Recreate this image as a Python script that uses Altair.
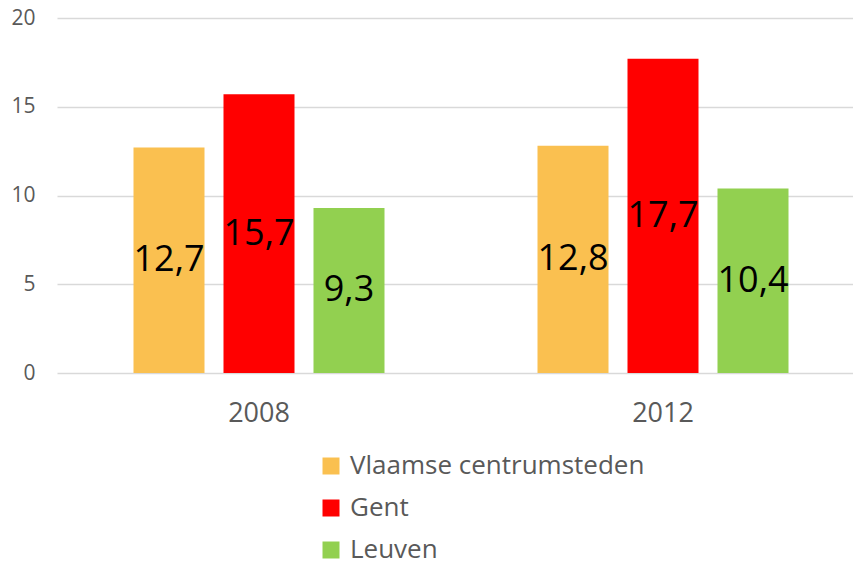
import altair as alt
import pandas as pd

years = ["2008", "2012"]
series = ["Vlaamse centrumsteden", "Gent", "Leuven"]
values_2008 = [12.7, 15.7, 9.3]
values_2012 = [12.8, 17.7, 10.4]
colors = ["#FAC050", "#FF0000", "#92D050"]

rows = []
for yr, vals in zip(years, [values_2008, values_2012]):
    for s, v in zip(series, vals):
        rows.append({"year": yr, "series": s, "value": v,
                     "label": f"{v:.1f}".replace(".", ",")})
df = pd.DataFrame(rows)

FONT = "Open Sans"
GRAY = "#595959"

x = alt.X("year:N", sort=years, title=None,
          scale=alt.Scale(range=[0, 808], paddingInner=0, paddingOuter=0),
          axis=alt.Axis(labelAngle=0, labelFontSize=27, labelColor=GRAY, labelFont=FONT,
                        labelPadding=27, ticks=False, domain=False, grid=False))
xo = alt.XOffset("series:N", sort=series,
                 scale=alt.Scale(paddingInner=0.211, paddingOuter=0.85))

base = alt.Chart(df).encode(x=x, xOffset=xo)

bars = base.mark_bar().encode(
    y=alt.Y("value:Q", title=None,
            scale=alt.Scale(domain=[0, 20], nice=False),
            axis=alt.Axis(values=[0, 5, 10, 15, 20], labelFontSize=21, labelColor=GRAY,
                          labelFont=FONT, labelPadding=22, ticks=False, domain=False,
                          gridColor="#D9D9D9", gridWidth=1.5)),
    color=alt.Color("series:N", sort=series,
                    scale=alt.Scale(domain=series, range=colors),
                    legend=alt.Legend(title=None, orient="none", legendX=261, legendY=435,
                                      direction="vertical", symbolType="square",
                                      symbolSize=289, symbolStrokeWidth=0, labelFontSize=26,
                                      labelFont=FONT, labelColor=GRAY, labelOffset=6,
                                      rowPadding=16, padding=0, labelLimit=400)),
)

labels = base.transform_calculate(mid="datum.value / 2").mark_text(
    font=FONT, fontSize=36, color="#000000", baseline="middle"
).encode(y="mid:Q", text="label:N")

chart = alt.layer(bars, labels).properties(
    width=796, height=355,
    autosize=alt.AutoSizeParams(type="none"),
    padding={"left": 49, "top": 10, "right": 0, "bottom": 193},
).configure_view(stroke=None)

chart.save("out.html", embed_options={"renderer": "svg", "actions": False})
